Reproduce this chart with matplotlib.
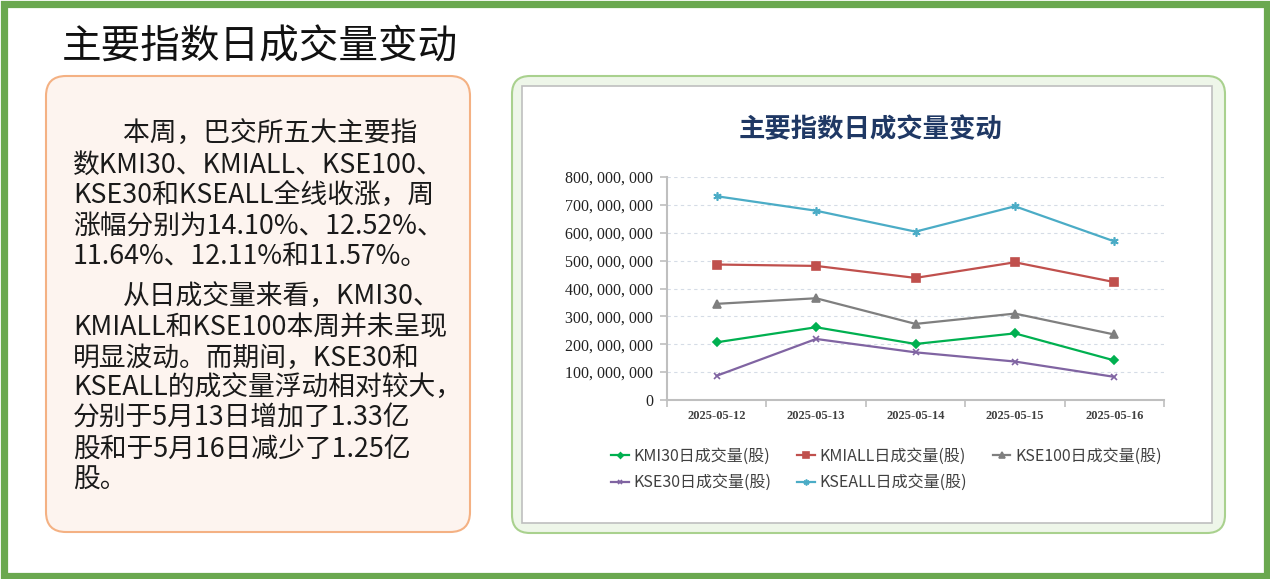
import numpy as np
import matplotlib.pyplot as plt
from matplotlib.patches import FancyBboxPatch, Rectangle
from matplotlib.ticker import FuncFormatter

plt.rcParams['font.family'] = ['Noto Sans CJK SC', 'DejaVu Sans']

# données (nombre de titres échangés par jour)
dates = ['2025-05-12', '2025-05-13', '2025-05-14', '2025-05-15', '2025-05-16']
kmi30 = [207e6, 261e6, 201e6, 239e6, 142e6]
kmiall = [486e6, 481e6, 438e6, 494e6, 423e6]
kse100 = [345e6, 365e6, 273e6, 310e6, 235e6]
kse30 = [87e6, 219e6, 171e6, 138e6, 83e6]
kseall = [731e6, 679e6, 604e6, 695e6, 569e6]
noms = ['KMI30日成交量(股)', 'KMIALL日成交量(股)', 'KSE100日成交量(股)',
        'KSE30日成交量(股)', 'KSEALL日成交量(股)']
yticks = [0, 100e6, 200e6, 300e6, 400e6, 500e6, 600e6, 700e6, 800e6]

titre = '主要指数日成交量变动'
para1 = ['本周，巴交所五大主要指',
         '数KMI30、KMIALL、KSE100、',
         'KSE30和KSEALL全线收涨，周',
         '涨幅分别为14.10%、12.52%、',
         '11.64%、12.11%和11.57%。']
para2 = ['从日成交量来看，KMI30、',
         'KMIALL和KSE100本周并未呈现',
         '明显波动。而期间，KSE30和',
         'KSEALL的成交量浮动相对较大，',
         '分别于5月13日增加了1.33亿',
         '股和于5月16日减少了1.25亿',
         '股。']

W, H = 1270, 579
fig = plt.figure(figsize=(W / 100, H / 100), dpi=100)

# fond en coordonnées pixels
bg = fig.add_axes([0, 0, 1, 1])
bg.set_xlim(0, W)
bg.set_ylim(H, 0)
bg.axis('off')

bg.add_patch(Rectangle((3.5, 3.5), W - 7, H - 7, fill=False,
                       ec='#6aa84f', lw=5.2))
bg.text(62, 47, titre, fontsize=28.5, va='center', ha='left', color='#111111')

# encadré de texte
bg.add_patch(FancyBboxPatch((46, 76), 424, 456,
                            boxstyle='round,pad=0,rounding_size=20',
                            fc='#fdf4ef', ec='#f4b183', lw=1.5))
y1 = [134, 165, 195, 226, 257]
y2 = [297, 327, 358, 388, 418, 449, 480]
for i, (ligne, y) in enumerate(zip(para1, y1)):
    bg.text(123 if i == 0 else 73, y, ligne, fontsize=19.3, va='center',
            color='#1a1a1a')
for i, (ligne, y) in enumerate(zip(para2, y2)):
    bg.text(123 if i == 0 else 73, y, ligne, fontsize=19.3, va='center',
            color='#1a1a1a')

# cadre du graphique
bg.add_patch(FancyBboxPatch((512, 76), 713, 457,
                            boxstyle='round,pad=0,rounding_size=18',
                            fc='#eef6e9', ec='#a9d18e', lw=1.5))
bg.add_patch(Rectangle((522, 86), 690, 437, fc='white', ec='#bfbfbf', lw=1.2))
bg.text(870, 130, titre, fontsize=19, fontweight='bold', ha='center',
        va='center', color='#1f3864')

# graphique
ax = fig.add_axes([667 / W, 1 - 400 / H, 497 / W, 223 / H])
x = np.arange(len(dates))
styles = [
    (kmi30, '#00b050', 'D', 4),
    (kmiall, '#c0504d', 's', 5.5),
    (kse100, '#7f7f7f', '^', 5.5),
    (kse30, '#8064a2', 'x', 5),
    (kseall, '#4bacc6', (6, 2, 0), 6),
]
lignes = []
for (serie, couleur, m, ms), nom in zip(styles, noms):
    l, = ax.plot(x, serie, color=couleur, lw=1.6, marker=m, ms=ms, mew=1.2,
                 label=nom)
    lignes.append(l)

ax.set_xlim(-0.5, len(dates) - 0.5)
ax.set_ylim(0, 800e6)
ax.set_yticks(yticks)
ax.yaxis.set_major_formatter(FuncFormatter(lambda v, p: f'{v:,.0f}'.replace(',', ', ')))
ax.set_xticks(x)
ax.set_xticklabels(dates)
ax.set_xticks(np.arange(-0.5, len(dates)), minor=True)
ax.tick_params(axis='x', which='major', length=0, pad=7)
ax.tick_params(axis='x', which='minor', length=5, color='#bfbfbf', width=1.2)
ax.tick_params(axis='y', length=5, color='#bfbfbf', width=1.2, pad=5)
for lab in ax.get_yticklabels():
    lab.set_family('Liberation Serif')
    lab.set_fontsize(11.5)
    lab.set_color('#222222')
for lab in ax.get_xticklabels():
    lab.set_family('Liberation Serif')
    lab.set_fontsize(9)
    lab.set_fontweight('bold')
    lab.set_color('#404040')

ax.grid(axis='y', ls=(0, (3, 3)), color='#d5dce6', lw=0.8)
ax.set_axisbelow(True)
for s in ['top', 'right']:
    ax.spines[s].set_visible(False)
for s in ['left', 'bottom']:
    ax.spines[s].set_color('#bfbfbf')
    ax.spines[s].set_linewidth(1.5)

# légende remplie par colonnes : on réordonne pour avoir 3 entrées sur la 1re ligne
ordre = [0, 3, 1, 4, 2]
leg = fig.legend([lignes[i] for i in ordre], [noms[i] for i in ordre],
                 loc='upper left', bbox_to_anchor=(597 / W, 1 - 433 / H),
                 ncol=3, frameon=False, fontsize=11.5, handlelength=1.1,
                 handletextpad=0.3, columnspacing=1.6, labelspacing=0.62,
                 markerscale=0.7)
for t in leg.get_texts():
    t.set_color('#404040')

fig.savefig('out.png', dpi=100)
